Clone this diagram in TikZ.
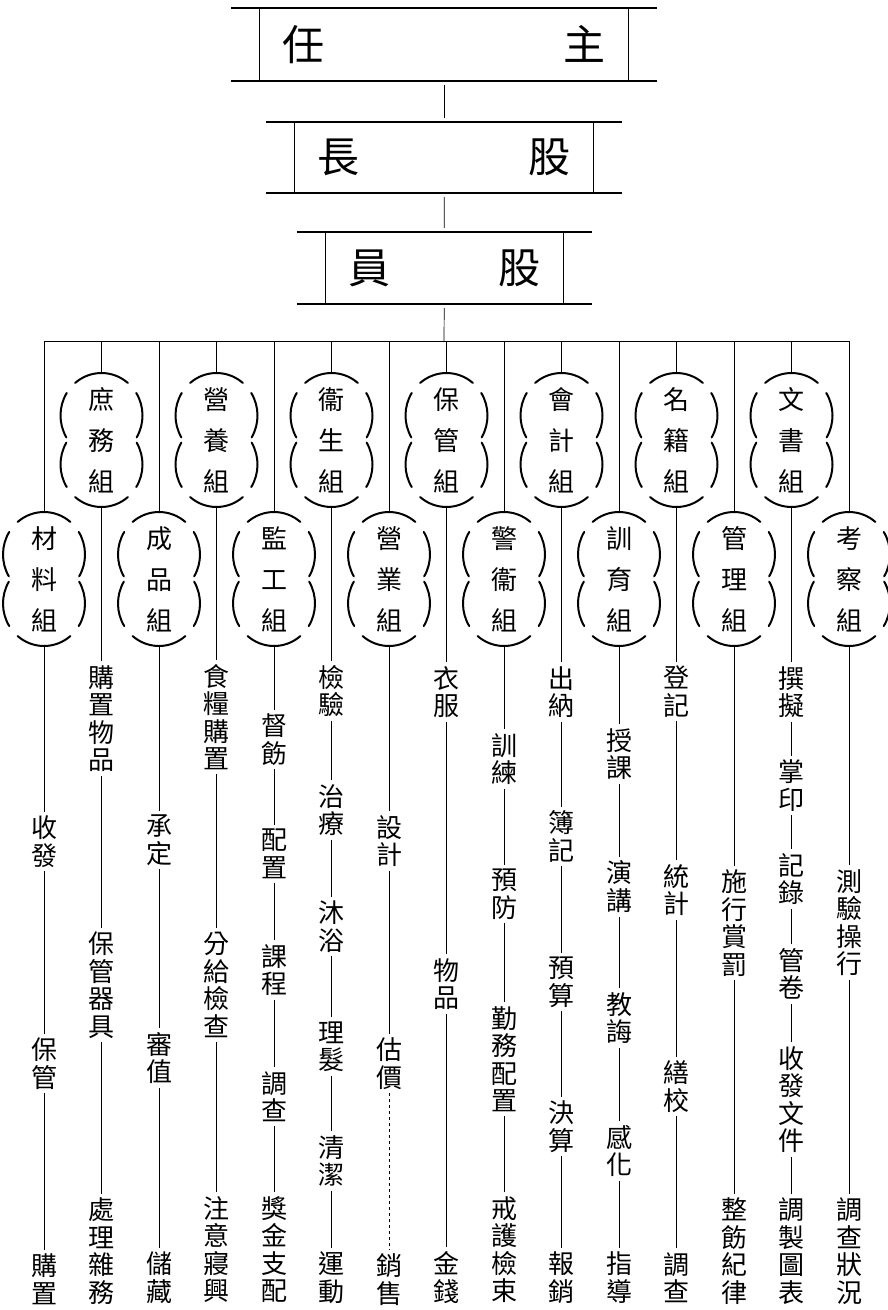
\documentclass[tikz,border=0pt]{standalone}
\usepackage{fontspec}
\newfontfamily\cjk{Noto Sans CJK TC}
\usetikzlibrary{positioning}

% six arcs round a group node
\newcommand\lobes[1]{%
  \draw[lobe] ([yshift=24.5pt]#1.center) ++(50:41pt and 42.5pt) arc[start angle=50, end angle=130, x radius=41pt, y radius=42.5pt];
  \draw[lobe] ([yshift=24.5pt]#1.center) ++(148:41pt and 42.5pt) arc[start angle=148, end angle=211, x radius=41pt, y radius=42.5pt];
  \draw[lobe] ([yshift=24.5pt]#1.center) ++(-31:41pt and 42.5pt) arc[start angle=-31, end angle=32, x radius=41pt, y radius=42.5pt];
  \draw[lobe] ([yshift=-24.5pt]#1.center) ++(230:41pt and 42.5pt) arc[start angle=230, end angle=310, x radius=41pt, y radius=42.5pt];
  \draw[lobe] ([yshift=-24.5pt]#1.center) ++(149:41pt and 42.5pt) arc[start angle=149, end angle=212, x radius=41pt, y radius=42.5pt];
  \draw[lobe] ([yshift=-24.5pt]#1.center) ++(-32:41pt and 42.5pt) arc[start angle=-32, end angle=31, x radius=41pt, y radius=42.5pt];
}

\begin{document}
\begin{tikzpicture}[
    x=1pt, y=-1pt,
    head/.style={inner sep=0pt, font=\cjk\fontsize{42}{42}\selectfont},
    rule/.style={line width=1.5pt},
    bar/.style={line width=1.2pt},
    unit/.style={minimum width=82pt, minimum height=134pt, inner sep=0pt,
                 align=center, font=\cjk\fontsize{26}{41}\selectfont},
    lobe/.style={line width=2pt, line cap=round},
    item/.style={inner xsep=0pt, inner ysep=4pt, align=center,
                 font=\cjk\fontsize{26}{27.5}\selectfont},
    link/.style={line width=0.7pt}
]
\useasboundingbox (0,0) rectangle (888,1310);

% head boxes
\node[head, minimum width=368pt, minimum height=73pt, text width=323pt] (zr) at (444,44.5) {任\hfill 主};
\node[head, minimum width=298pt, minimum height=71pt, text width=253pt] (gz) at (444,157.5) {長\hfill 股};
\node[head, minimum width=237pt, minimum height=72pt, text width=192pt] (gy) at (444.5,268) {員\hfill 股};

\draw[rule] ([xshift=-29pt]zr.north west) -- ([xshift=29pt]zr.north east);
\draw[rule] ([xshift=-29pt]zr.south west) -- ([xshift=29pt]zr.south east);
\draw[bar] (zr.north west) -- (zr.south west);
\draw[bar] (zr.north east) -- (zr.south east);
\draw[rule] ([xshift=-29pt]gz.north west) -- ([xshift=29pt]gz.north east);
\draw[rule] ([xshift=-29pt]gz.south west) -- ([xshift=29pt]gz.south east);
\draw[bar] (gz.north west) -- (gz.south west);
\draw[bar] (gz.north east) -- (gz.south east);
\draw[rule] ([xshift=-29pt]gy.north west) -- ([xshift=29pt]gy.north east);
\draw[rule] ([xshift=-29pt]gy.south west) -- ([xshift=29pt]gy.south east);
\draw[bar] (gy.north west) -- (gy.south west);
\draw[bar] (gy.north east) -- (gy.south east);

\draw[link, shorten <=4pt, shorten >=4pt] (zr) -- (gz);
\draw[link, shorten <=4pt, shorten >=4pt] (gz) -- (gy);

% groups
\node[unit] (c0)  at (44,579)    {材\\料\\組};
\node[unit] (c1)  at (101.5,440) {庶\\務\\組};
\node[unit] (c2)  at (159,579)   {成\\品\\組};
\node[unit] (c3)  at (216.5,440) {營\\養\\組};
\node[unit] (c4)  at (274,579)   {監\\工\\組};
\node[unit] (c5)  at (331.5,440) {衞\\生\\組};
\node[unit] (c6)  at (389,579)   {營\\業\\組};
\node[unit] (c7)  at (446.5,440) {保\\管\\組};
\node[unit] (c8)  at (504,579)   {警\\衞\\組};
\node[unit] (c9)  at (561.5,440) {會\\計\\組};
\node[unit] (c10) at (619,579)   {訓\\育\\組};
\node[unit] (c11) at (676.5,440) {名\\籍\\組};
\node[unit] (c12) at (734,579)   {管\\理\\組};
\node[unit] (c13) at (791.5,440) {文\\書\\組};
\node[unit] (c14) at (849,579)   {考\\察\\組};

\lobes{c0}\lobes{c1}\lobes{c2}\lobes{c3}\lobes{c4}
\lobes{c5}\lobes{c6}\lobes{c7}\lobes{c8}\lobes{c9}
\lobes{c10}\lobes{c11}\lobes{c12}\lobes{c13}\lobes{c14}

% bus
\coordinate (bus) at (444,341);
\draw[link, shorten <=4pt] (gy) -- (bus);
\draw[link] (c0 |- bus) -- (c14 |- bus);
\foreach \c in {c0,c1,c2,c3,c4,c5,c6,c7,c8,c9,c10,c11,c12,c13,c14}
  \draw[link] (\c |- bus) -- (\c);

% duties
\node[item] (c0a) at (44,841.5)  {收\\發};
\node[item] (c0b) at (44,1063.5) {保\\管};
\node[item] (c0c) at (44,1279)   {購\\置};

\node[item] (c1a) at (101.5,718.5) {購\\置\\物\\品};
\node[item] (c1b) at (101.5,985)   {保\\管\\器\\具};
\node[item] (c1c) at (101.5,1251)  {處\\理\\雜\\務};

\node[item] (c2a) at (159,840)    {承\\定};
\node[item] (c2b) at (159,1058)   {審\\值};
\node[item] (c2c) at (159,1277.5) {儲\\藏};

\node[item] (c3a) at (216.5,717)    {食\\糧\\購\\置};
\node[item] (c3b) at (216.5,985)    {分\\給\\檢\\查};
\node[item] (c3c) at (216.5,1249.5) {注\\意\\寢\\興};

\node[item] (c4a) at (274,739.5)  {督\\飭};
\node[item] (c4b) at (274,854)    {配\\置};
\node[item] (c4c) at (274,970)    {課\\程};
\node[item] (c4d) at (274,1096.5) {調\\查};
\node[item] (c4e) at (274,1249.5) {獎\\金\\支\\配};

\node[item] (c5a) at (331.5,691)    {檢\\驗};
\node[item] (c5b) at (331.5,810)    {治\\療};
\node[item] (c5c) at (331.5,926.5)  {沐\\浴};
\node[item] (c5d) at (331.5,1046.5) {理\\髮};
\node[item] (c5e) at (331.5,1161)   {清\\潔};
\node[item] (c5f) at (331.5,1277.5) {運\\動};

\node[item] (c6a) at (389,841)    {設\\計};
\node[item] (c6b) at (389,1063.5) {估\\價};
\node[item] (c6c) at (389,1279.5) {銷\\售};

\node[item] (c7a) at (446.5,692)    {衣\\服};
\node[item] (c7b) at (446.5,984)    {物\\品};
\node[item] (c7c) at (446.5,1277.5) {金\\錢};

\node[item] (c8a) at (504,759)    {訓\\練};
\node[item] (c8b) at (504,894)    {預\\防};
\node[item] (c8c) at (504,1059)   {勤\\務\\配\\置};
\node[item] (c8d) at (504,1249.5) {戒\\護\\檢\\束};

\node[item] (c9a) at (561.5,692)    {出\\納};
\node[item] (c9b) at (561.5,836.5)  {簿\\記};
\node[item] (c9c) at (561.5,982)    {預\\算};
\node[item] (c9d) at (561.5,1126.5) {決\\算};
\node[item] (c9e) at (561.5,1277.5) {報\\銷};

\node[item] (c10a) at (619,754)    {授\\課};
\node[item] (c10b) at (619,886.5)  {演\\講};
\node[item] (c10c) at (619,1018)   {教\\誨};
\node[item] (c10d) at (619,1151)   {感\\化};
\node[item] (c10e) at (619,1277.5) {指\\導};

\node[item] (c11a) at (676.5,691.5)  {登\\記};
\node[item] (c11b) at (676.5,890)    {統\\計};
\node[item] (c11c) at (676.5,1086.5) {繕\\校};
\node[item] (c11d) at (676.5,1277.5) {調\\查};

\node[item] (c12a) at (734,923)  {施\\行\\賞\\罰};
\node[item] (c12b) at (734,1251) {整\\飭\\紀\\律};

\node[item] (c13a) at (791.5,692)    {撰\\擬};
\node[item] (c13b) at (791.5,785.5)  {掌\\印};
\node[item] (c13c) at (791.5,879)    {記\\錄};
\node[item] (c13d) at (791.5,974)    {管\\卷};
\node[item] (c13e) at (791.5,1099.5) {收\\發\\文\\件};
\node[item] (c13f) at (791.5,1251)   {調\\製\\圖\\表};

\node[item] (c14a) at (849,922.5) {測\\驗\\操\\行};
\node[item] (c14b) at (849,1251)  {調\\查\\狀\\況};

% duty lines
\draw[link] (c0) -- (c0a) (c0a) -- (c0b) (c0b) -- (c0c);
\draw[link] (c1) -- (c1a) (c1a) -- (c1b) (c1b) -- (c1c);
\draw[link] (c2) -- (c2a) (c2a) -- (c2b) (c2b) -- (c2c);
\draw[link] (c3) -- (c3a) (c3a) -- (c3b) (c3b) -- (c3c);
\draw[link] (c4) -- (c4a) (c4a) -- (c4b) (c4b) -- (c4c) (c4c) -- (c4d) (c4d) -- (c4e);
\draw[link] (c5) -- (c5a) (c5a) -- (c5b) (c5b) -- (c5c) (c5c) -- (c5d) (c5d) -- (c5e) (c5e) -- (c5f);
\draw[link] (c6) -- (c6a) (c6a) -- (c6b);
\draw[link, dashed] (c6b) -- (c6c);
\draw[link] (c7) -- (c7a) (c7a) -- (c7b) (c7b) -- (c7c);
\draw[link] (c8) -- (c8a) (c8a) -- (c8b) (c8b) -- (c8c) (c8c) -- (c8d);
\draw[link] (c9) -- (c9a) (c9a) -- (c9b) (c9b) -- (c9c) (c9c) -- (c9d) (c9d) -- (c9e);
\draw[link] (c10) -- (c10a) (c10a) -- (c10b) (c10b) -- (c10c) (c10c) -- (c10d) (c10d) -- (c10e);
\draw[link] (c11) -- (c11a) (c11a) -- (c11b) (c11b) -- (c11c) (c11c) -- (c11d);
\draw[link] (c12) -- (c12a) (c12a) -- (c12b);
\draw[link] (c13) -- (c13a) (c13a) -- (c13b) (c13b) -- (c13c) (c13c) -- (c13d) (c13d) -- (c13e) (c13e) -- (c13f);
\draw[link] (c14) -- (c14a) (c14a) -- (c14b);
\end{tikzpicture}
\end{document}
